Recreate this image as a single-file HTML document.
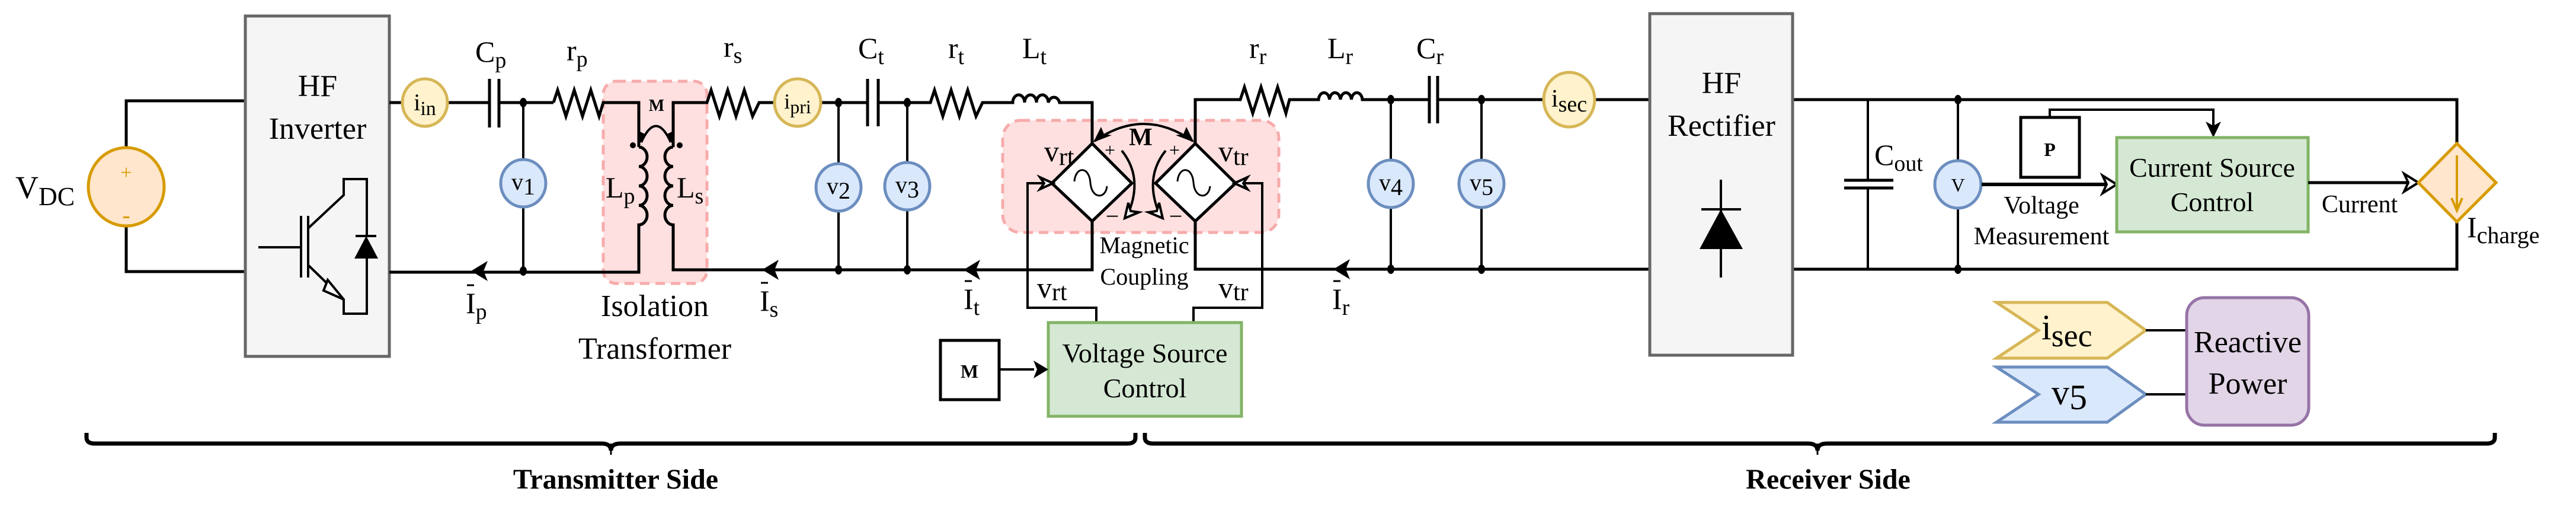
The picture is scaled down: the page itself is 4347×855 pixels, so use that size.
<!DOCTYPE html>
<html><head><meta charset="utf-8"><style>
html,body{margin:0;padding:0;background:#fff;}
svg{display:block;font-family:"Liberation Serif","DejaVu Serif",serif;}
svg text{font-family:"Liberation Serif","DejaVu Serif",serif !important;fill:#000;}
</style></head><body>
<svg width="4347" height="855" viewBox="0 0 4347 855" xmlns="http://www.w3.org/2000/svg" font-family="Liberation Serif, DejaVu Serif, serif">
<g fill="none" stroke="#000" stroke-width="5" stroke-linejoin="miter">
<polyline points="414,170 213,170 213,248"/>
<polyline points="213,381 213,458 414,458"/>
</g>
<ellipse cx="213" cy="315" rx="64" ry="66" fill="#ffe6cc" stroke="#d79b00" stroke-width="5"/>
<text x="213" y="302" font-size="34" text-anchor="middle" style="fill:#d79b00 !important">+</text>
<text x="213" y="376" font-size="40" text-anchor="middle" style="fill:#d79b00 !important">-</text>
<text x="26" y="334" font-size="54">V<tspan font-size="44" dy="12">DC</tspan></text>

<rect x="414" y="27" width="243" height="574" fill="#f5f5f5" stroke="#666" stroke-width="5"/>
<text x="536" y="162" font-size="52" text-anchor="middle">HF</text>
<text x="536" y="234" font-size="52" text-anchor="middle">Inverter</text>
<g fill="none" stroke="#000" stroke-width="4">
<line x1="436" y1="417" x2="507" y2="417"/>
<line x1="508" y1="364" x2="508" y2="468"/>
<line x1="520" y1="364" x2="520" y2="468"/>
<polyline points="520,385 580,329 580,302 619,302 619,398"/>
<line x1="600" y1="398" x2="635" y2="398"/>
<polyline points="619,436 619,529 580,529 580,505 520,447"/>
</g>
<polygon points="598,436 638,436 618,398" fill="#000"/>
<polygon points="580,505 553,472 546,490" fill="#fff" stroke="#000" stroke-width="4"/>

<rect x="1018" y="137" width="175" height="341" rx="22" fill="#fde0df" stroke="#f7abab" stroke-width="5" stroke-dasharray="16,10"/>
<rect x="1692" y="203" width="466" height="189" rx="30" fill="#fde0df" stroke="#f7abab" stroke-width="5" stroke-dasharray="16,10"/>

<g fill="none" stroke="#000" stroke-width="5">
<line x1="657" y1="173" x2="678" y2="173"/>
<line x1="756" y1="173" x2="826" y2="173"/>
<line x1="842" y1="173" x2="934" y2="173"/>
<path d="M934,173 L941,152 L955,196 L969,152 L983,196 L997,152 L1011,196 L1018,173 L1078,173 L1078,248"/>
<path d="M1078,248 a14,16.4 0 0 1 0,32.8 a14,16.4 0 0 1 0,32.8 a14,16.4 0 0 1 0,32.8 a14,16.4 0 0 1 0,32.8 L1078,459 L657,459"/>
<path d="M1136,248 a14,16.4 0 0 0 0,32.8 a14,16.4 0 0 0 0,32.8 a14,16.4 0 0 0 0,32.8 a14,16.4 0 0 0 0,32.8 L1136,455 L1843,455 L1843,373"/>
<path d="M1136,248 L1136,173 L1193,173 L1200,152 L1214,196 L1228,152 L1242,196 L1256,152 L1270,196 L1281,173 L1307,173"/>
<line x1="1385" y1="173" x2="1464" y2="173"/>
<path d="M1482,173 L1570,173 L1577,152 L1591,196 L1605,152 L1619,196 L1633,152 L1647,196 L1658,173 L1709,173 a10,13 0 0 1 20,0 a10,13 0 0 1 20,0 a10,13 0 0 1 20,0 a10,13 0 0 1 19,0 L1843,173 L1843,242"/>
<line x1="826" y1="133" x2="826" y2="215"/><line x1="842" y1="133" x2="842" y2="215"/>
<line x1="1464" y1="133" x2="1464" y2="213"/><line x1="1482" y1="133" x2="1482" y2="213"/>
<line x1="2412" y1="128" x2="2412" y2="208"/><line x1="2426" y1="128" x2="2426" y2="208"/>
<path d="M2017,242 L2017,168 L2093,168 L2100,147 L2114,191 L2128,147 L2142,191 L2156,147 L2170,191 L2176,168 L2225,168 a9.3,13 0 0 1 18.5,0 a9.3,13 0 0 1 18.5,0 a9.3,13 0 0 1 18.5,0 a9.3,13 0 0 1 18.5,0 L2412,168"/>
<line x1="2426" y1="168" x2="2605" y2="168"/>
<line x1="2691" y1="168" x2="2784" y2="168"/>
<polyline points="2017,373 2017,454 2784,454"/>
<polyline points="3025,168 4146,168 4146,242"/>
<polyline points="3025,454 4146,454 4146,374"/>
</g>
<g fill="none" stroke="#000" stroke-width="4">
<line x1="883" y1="173" x2="883" y2="457"/>
<line x1="1415" y1="173" x2="1415" y2="455"/>
<line x1="1531" y1="173" x2="1531" y2="455"/>
<line x1="2347" y1="168" x2="2347" y2="454"/>
<line x1="2500" y1="168" x2="2500" y2="454"/>
<line x1="3152" y1="168" x2="3152" y2="304"/><line x1="3152" y1="317" x2="3152" y2="454"/>
<line x1="3112" y1="304" x2="3195" y2="304" stroke-width="5"/><line x1="3112" y1="317" x2="3195" y2="317" stroke-width="5"/>
<line x1="3304" y1="168" x2="3304" y2="454"/>
<path d="M1082,240 Q1107,185 1132,240"/>
</g>
<g fill="#000">
<ellipse cx="883" cy="173" rx="6" ry="8"/><ellipse cx="883" cy="457" rx="6" ry="8"/>
<ellipse cx="1415" cy="173" rx="6" ry="8"/><ellipse cx="1415" cy="455" rx="6" ry="8"/>
<ellipse cx="1531" cy="173" rx="6" ry="8"/><ellipse cx="1531" cy="455" rx="6" ry="8"/>
<ellipse cx="2347" cy="168" rx="6" ry="8"/><ellipse cx="2347" cy="454" rx="6" ry="8"/>
<ellipse cx="2500" cy="168" rx="6" ry="8"/><ellipse cx="2500" cy="454" rx="6" ry="8"/>
<ellipse cx="3304" cy="168" rx="6" ry="8"/><ellipse cx="3304" cy="454" rx="6" ry="8"/>
<circle cx="1068" cy="245" r="5"/><circle cx="1147" cy="245" r="5"/>
<polygon points="1080,242 1076,220 1088,226"/><polygon points="1134,242 1138,220 1126,226"/>
<polygon points="795,457 823,440 816,457 823,474"/>
<polygon points="1286,455 1314,438 1307,455 1314,472"/>
<polygon points="1626,455 1654,438 1647,455 1654,472"/>
<polygon points="2250,454 2278,437 2271,454 2278,471"/>
</g>
<g stroke="#d6b656" stroke-width="5" fill="#fff2cc">
<ellipse cx="717" cy="173" rx="38" ry="40"/>
<ellipse cx="1346" cy="173" rx="39" ry="40"/>
<ellipse cx="2648" cy="168" rx="43" ry="46"/>
</g>
<g stroke="#6c8ebf" stroke-width="5" fill="#dae8fc">
<ellipse cx="883" cy="309" rx="38" ry="40"/>
<ellipse cx="1415" cy="316" rx="38" ry="40"/>
<ellipse cx="1531" cy="314" rx="38" ry="40"/>
<ellipse cx="2347" cy="310" rx="38" ry="40"/>
<ellipse cx="2500" cy="310" rx="38" ry="40"/>
<ellipse cx="3304" cy="311" rx="39" ry="40"/>
</g>
<g font-size="40" text-anchor="middle">
<text x="717" y="186">i<tspan font-size="34" dy="8">in</tspan></text>
<text x="1346" y="183" font-size="36">i<tspan font-size="32" dy="8">pri</tspan></text>
<text x="2648" y="180" font-size="42">i<tspan font-size="38" dy="8">sec</tspan></text>
<text x="883" y="320">v<tspan dy="8">1</tspan></text>
<text x="1415" y="327">v<tspan dy="8">2</tspan></text>
<text x="1531" y="325">v<tspan dy="8">3</tspan></text>
<text x="2347" y="321">v<tspan dy="8">4</tspan></text>
<text x="2500" y="321">v<tspan dy="8">5</tspan></text>
<text x="3304" y="323" font-size="32">V</text>
</g>
<g font-size="50">
<text x="802" y="104">C<tspan font-size="38" dy="10">p</tspan></text>
<text x="956" y="102">r<tspan font-size="38" dy="10">p</tspan></text>
<text x="1221" y="96">r<tspan font-size="38" dy="10">s</tspan></text>
<text x="1448" y="98">C<tspan font-size="38" dy="10">t</tspan></text>
<text x="1600" y="98">r<tspan font-size="38" dy="10">t</tspan></text>
<text x="1725" y="98">L<tspan font-size="38" dy="10">t</tspan></text>
<text x="2108" y="98">r<tspan font-size="38" dy="10">r</tspan></text>
<text x="2240" y="98">L<tspan font-size="38" dy="10">r</tspan></text>
<text x="2390" y="98">C<tspan font-size="38" dy="10">r</tspan></text>
<text x="1022" y="333">L<tspan font-size="38" dy="10">p</tspan></text>
<text x="1142" y="333">L<tspan font-size="38" dy="10">s</tspan></text>
<text x="3163" y="278">C<tspan font-size="38" dy="10">out</tspan></text>
<text x="4163" y="400">I<tspan font-size="40" dy="10">charge</tspan></text>
<text x="1762" y="272">v<tspan font-size="42" dy="6">rt</tspan></text>
<text x="2056" y="272">v<tspan font-size="42" dy="6">tr</tspan></text>
<text x="1750" y="502">v<tspan font-size="42" dy="4">rt</tspan></text>
<text x="2056" y="502">v<tspan font-size="42" dy="4">tr</tspan></text>
<text x="786" y="528">I<tspan font-size="38" dy="10">p</tspan></text>
<text x="1282" y="524">I<tspan font-size="38" dy="10">s</tspan></text>
<text x="1626" y="521">I<tspan font-size="38" dy="10">t</tspan></text>
<text x="2248" y="521">I<tspan font-size="38" dy="10">r</tspan></text>
</g>
<g stroke="#000" stroke-width="3">
<line x1="788" y1="481" x2="800" y2="481"/>
<line x1="1284" y1="477" x2="1296" y2="477"/>
<line x1="1628" y1="474" x2="1640" y2="474"/>
<line x1="2250" y1="474" x2="2262" y2="474"/>
</g>
<text x="1108" y="187" font-size="28" text-anchor="middle" font-weight="bold">M</text>
<text x="1105" y="533" font-size="52" text-anchor="middle">Isolation</text>
<text x="1105" y="605" font-size="52" text-anchor="middle">Transformer</text>

<polygon points="1843,242 1910,309 1843,373 1775,309" fill="#fff" stroke="#000" stroke-width="5"/>
<polygon points="2017,242 2085,309 2017,373 1950,309" fill="#fff" stroke="#000" stroke-width="5"/>
<g fill="none" stroke="#000" stroke-width="3">
<path d="M1813,306 C1815,280 1838,280 1840,308 C1842,336 1866,336 1868,314"/>
<path d="M1987,306 C1989,280 2012,280 2014,308 C2016,336 2040,336 2042,314"/>
</g>
<g fill="none" stroke="#000" stroke-width="4">
<path d="M1847,238 Q1930,180 2013,238"/>
<path d="M1893,254 Q1930,300 1903,362"/>
<path d="M1967,254 Q1930,300 1957,362"/>
<polyline points="1775,309 1734,309 1734,519 1850,519 1850,544"/>
<polyline points="2085,309 2130,309 2130,519 2014,519 2014,544"/>
</g>
<g fill="#000">
<polygon points="1845,240 1858,214 1863,226 1876,228"/>
<polygon points="2015,240 2002,214 1997,226 1984,228"/>
</g>
<g fill="#fff" stroke="#000" stroke-width="4">
<polygon points="1898,368 1904,342 1908,356 1922,358"/>
<polygon points="1962,368 1956,342 1952,356 1938,358"/>
<polygon points="1777,309 1755,299 1762,309 1755,319"/>
<polygon points="2083,309 2105,299 2098,309 2105,319"/>
</g>
<text x="1925" y="245" font-size="42" font-weight="bold" text-anchor="middle">M</text>
<text x="1873" y="264" font-size="32" text-anchor="middle">+</text>
<text x="1982" y="264" font-size="32" text-anchor="middle">+</text>
<text x="1877" y="378" font-size="40" text-anchor="middle">−</text>
<text x="1984" y="378" font-size="40" text-anchor="middle">−</text>
<text x="1931" y="427" font-size="40" text-anchor="middle">Magnetic</text>
<text x="1931" y="480" font-size="40" text-anchor="middle">Coupling</text>

<rect x="1769" y="544" width="326" height="158" fill="#d5e8d4" stroke="#82b366" stroke-width="5"/>
<text x="1932" y="611" font-size="46" text-anchor="middle">Voltage Source</text>
<text x="1932" y="670" font-size="46" text-anchor="middle">Control</text>
<rect x="1587" y="574" width="99" height="100" fill="#fff" stroke="#000" stroke-width="5"/>
<text x="1636" y="637" font-size="32" font-weight="bold" text-anchor="middle">M</text>
<line x1="1686" y1="623" x2="1745" y2="623" stroke="#000" stroke-width="4"/>
<polygon points="1769,623 1744,608 1750,623 1744,638" fill="#000"/>

<rect x="2784" y="23" width="241" height="576" fill="#f5f5f5" stroke="#666" stroke-width="5"/>
<text x="2905" y="157" font-size="52" text-anchor="middle">HF</text>
<text x="2905" y="229" font-size="52" text-anchor="middle">Rectifier</text>
<g stroke="#000" stroke-width="4">
<line x1="2904" y1="303" x2="2904" y2="468"/>
<line x1="2871" y1="353" x2="2938" y2="353"/>
</g>
<polygon points="2868,420 2941,420 2904,353" fill="#000"/>

<line x1="3344" y1="311" x2="3562" y2="311" stroke="#000" stroke-width="6"/>
<polygon points="3572,311 3548,296 3555,311 3548,326" fill="#fff" stroke="#000" stroke-width="4"/>
<text x="3445" y="360" font-size="42" text-anchor="middle">Voltage</text>
<text x="3445" y="412" font-size="42" text-anchor="middle">Measurement</text>
<rect x="3410" y="198" width="99" height="101" fill="#fff" stroke="#000" stroke-width="5"/>
<text x="3459" y="263" font-size="32" font-weight="bold" text-anchor="middle">P</text>
<polyline points="3459,198 3459,185 3735,185 3735,215" fill="none" stroke="#000" stroke-width="4"/>
<polygon points="3735,232 3722,205 3735,212 3748,205" fill="#000"/>
<rect x="3572" y="232" width="323" height="159" fill="#d5e8d4" stroke="#82b366" stroke-width="5"/>
<text x="3733" y="298" font-size="46" text-anchor="middle">Current Source</text>
<text x="3733" y="356" font-size="46" text-anchor="middle">Control</text>
<line x1="3895" y1="308" x2="4072" y2="308" stroke="#000" stroke-width="5"/>
<polygon points="4081,308 4057,293 4064,308 4057,323" fill="#fff" stroke="#000" stroke-width="4"/>
<text x="3982" y="358" font-size="42" text-anchor="middle">Current</text>
<polygon points="4146,242 4212,308 4146,374 4081,308" fill="#ffe6cc" stroke="#d79b00" stroke-width="5"/>
<line x1="4146" y1="262" x2="4146" y2="350" stroke="#d79b00" stroke-width="4"/>
<polyline points="4137,334 4146,355 4155,334" fill="none" stroke="#d79b00" stroke-width="4"/>

<polygon points="3369,510 3556,510 3621,557 3556,604 3369,604 3440,557" fill="#fff2cc" stroke="#d6b656" stroke-width="5"/>
<polygon points="3369,619 3556,619 3621,665 3556,712 3369,712 3440,665" fill="#dae8fc" stroke="#6c8ebf" stroke-width="5"/>
<line x1="3621" y1="557" x2="3690" y2="557" stroke="#000" stroke-width="4"/>
<line x1="3621" y1="665" x2="3690" y2="665" stroke="#000" stroke-width="4"/>
<rect x="3690" y="502" width="206" height="215" rx="30" fill="#e1d5e7" stroke="#9673a6" stroke-width="5"/>
<text x="3793" y="594" font-size="52" text-anchor="middle">Reactive</text>
<text x="3793" y="664" font-size="52" text-anchor="middle">Power</text>
<text x="3445" y="572" font-size="60">i<tspan font-size="54" dy="12">sec</tspan></text>
<text x="3462" y="682" font-size="60">v<tspan dy="8">5</tspan></text>

<g fill="none" stroke="#000" stroke-width="7">
<path d="M146,730 L146,738 Q146,748 160,748 L1015,748 Q1031,748 1031,760 Q1031,748 1047,748 L1902,748 Q1916,748 1916,738 L1916,730"/>
<path d="M1932,730 L1932,738 Q1932,748 1946,748 L3051,748 Q3067,748 3067,760 Q3067,748 3083,748 L4196,748 Q4210,748 4210,738 L4210,730"/>
</g>
<line x1="1031" y1="748" x2="1031" y2="767" stroke="#000" stroke-width="3"/>
<line x1="3067" y1="748" x2="3067" y2="767" stroke="#000" stroke-width="3"/>
<text x="1039" y="824" font-size="48" font-weight="bold" text-anchor="middle">Transmitter Side</text>
<text x="3085" y="824" font-size="48" font-weight="bold" text-anchor="middle">Receiver Side</text>
</svg>
</body></html>
